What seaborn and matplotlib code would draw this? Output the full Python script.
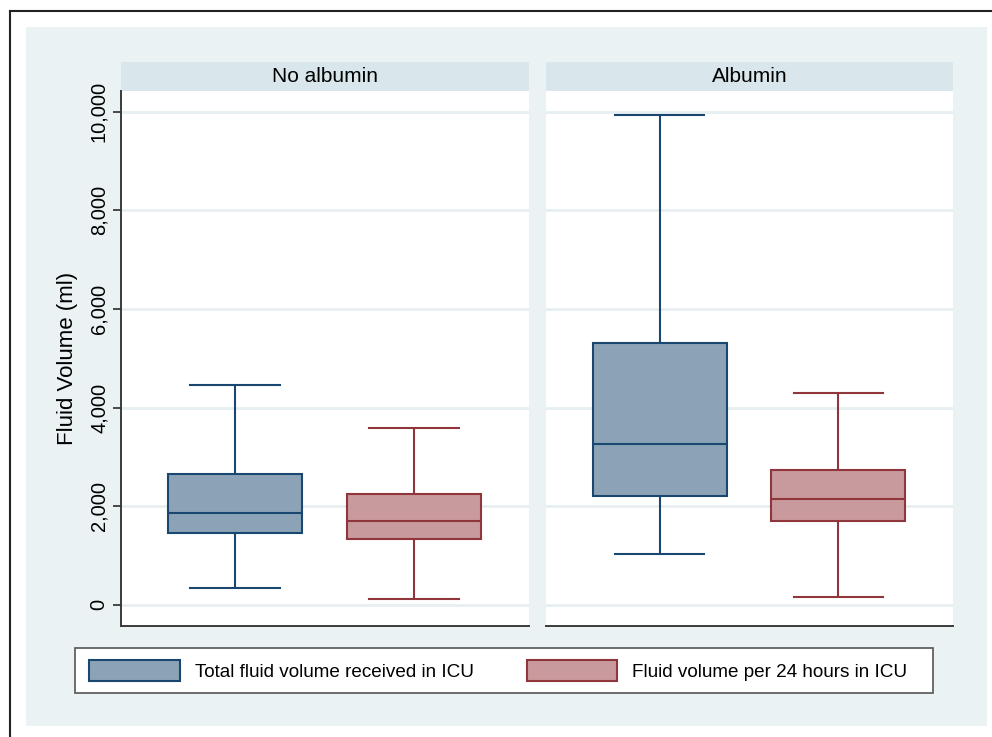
import numpy as np
import pandas as pd
import matplotlib
matplotlib.use("Agg")
import matplotlib.pyplot as plt
from matplotlib.patches import Rectangle, Patch
from matplotlib.lines import Line2D
import seaborn as sns

# panels and series
groups = ["No albumin", "Albumin"]
series = ["Total fluid volume received in ICU", "Fluid volume per 24 hours in ICU"]

# five-number summaries: min, q1, median, q3, max
total_no_alb = [340, 1465, 1860, 2655, 4465]
day_no_alb = [120, 1330, 1690, 2245, 3595]
total_alb = [1040, 2210, 3260, 5300, 9940]
day_alb = [150, 1700, 2140, 2730, 4290]

yticks = [0, 2000, 4000, 6000, 8000, 10000]

rows = []
for g, s, vals in [(groups[0], series[0], total_no_alb),
                   (groups[0], series[1], day_no_alb),
                   (groups[1], series[0], total_alb),
                   (groups[1], series[1], day_alb)]:
    for v in vals:
        rows.append({"group": g, "series": s, "value": v})
df = pd.DataFrame(rows)

# Stata s2color look
navy = "#1A476F"
maroon = "#90353B"
fills = {series[0]: "#8CA3B7", series[1]: "#C89A9D"}
edges = {series[0]: navy, series[1]: maroon}
bg = "#EAF2F3"
strip_c = "#D9E6EB"
grid_c = "#E6EFF2"
axis_c = "#3A3A3A"

plt.rcParams["font.family"] = ["Liberation Sans", "DejaVu Sans"]

W, H = 992, 737
fig = plt.figure(figsize=(W / 100, H / 100), dpi=100)
fig.patch.set_facecolor("white")


def fx(px):
    return px / W


def fy(py):
    return 1 - py / H


# outer background + border
fig.patches.append(Rectangle((fx(26), fy(726)), fx(987) - fx(26), fy(27) - fy(726),
                             transform=fig.transFigure, facecolor=bg, edgecolor="none", zorder=-10))
fig.add_artist(Line2D([fx(9.5), 1], [fy(10.5), fy(10.5)], color="#222222", lw=1.5))
fig.add_artist(Line2D([fx(9.5), fx(9.5)], [fy(10.5), 0], color="#222222", lw=1.5))

panel_x = [(121, 529), (546, 953)]
axes = []
for (x0, x1), g in zip(panel_x, groups):
    ax = fig.add_axes([fx(x0), fy(626), fx(x1) - fx(x0), fy(91) - fy(626)])
    axes.append(ax)
    # strip title
    fig.patches.append(Rectangle((fx(x0), fy(91)), fx(x1) - fx(x0), fy(62) - fy(91),
                                 transform=fig.transFigure, facecolor=strip_c, edgecolor="none",
                                 zorder=-5))
    fig.text((fx(x0) + fx(x1)) / 2, (fy(62) + fy(91)) / 2, g, ha="center", va="center",
             fontsize=15, color="black")

    sub = df[df["group"] == g]
    for s in series:
        sns.boxplot(data=sub[sub["series"] == s], x="group", y="value", hue="series",
                    hue_order=series, palette=fills, saturation=1, linecolor=edges[s],
                    dodge=True, width=0.8, gap=0.25, whis=np.inf, linewidth=1.5,
                    capwidths=0.2, legend=False, ax=ax)

    ax.set_xlim(-0.455, 0.457)
    ax.set_ylim(-430, 10420)
    ax.set_yticks(yticks)
    ax.set_xticks([])
    ax.set_xlabel("")
    ax.grid(axis="y", color=grid_c, lw=2)
    ax.set_axisbelow(True)
    ax.set_facecolor("white")
    for side in ["top", "right"]:
        ax.spines[side].set_visible(False)
    ax.spines["bottom"].set_color(axis_c)
    ax.spines["bottom"].set_linewidth(1.4)
    ax.spines["left"].set_color(axis_c)
    ax.spines["left"].set_linewidth(1.4)

ax_l, ax_r = axes
ax_l.set_yticklabels([f"{v:,}" for v in yticks], rotation=90, va="center", fontsize=14.5)
ax_l.tick_params(axis="y", length=6, width=1.3, color=axis_c, pad=3)
ax_l.set_ylabel("Fluid Volume (ml)", fontsize=16)
ax_l.yaxis.set_label_coords(-0.105, 0.5)

ax_r.spines["left"].set_visible(False)
ax_r.tick_params(axis="y", left=False, labelleft=False)
ax_r.set_ylabel("")

# legend frame drawn separately so the entries can sit where Stata puts them
fig.patches.append(Rectangle((fx(75), fy(693)), fx(933) - fx(75), fy(648) - fy(693),
                             transform=fig.transFigure, facecolor="white", edgecolor="#555555",
                             lw=1.2, zorder=-5))
handles = [Patch(facecolor=fills[s], edgecolor=edges[s], lw=1.5, label=s) for s in series]
fig.legend(handles=handles, loc="center left", ncol=2,
           bbox_to_anchor=(fx(89), (fy(648) + fy(693)) / 2),
           bbox_transform=fig.transFigure, frameon=False, fontsize=13.6,
           handlelength=4.8, handleheight=1.35, handletextpad=0.8, columnspacing=2.8,
           borderaxespad=0, borderpad=0)

fig.savefig("out.png", dpi=100)
